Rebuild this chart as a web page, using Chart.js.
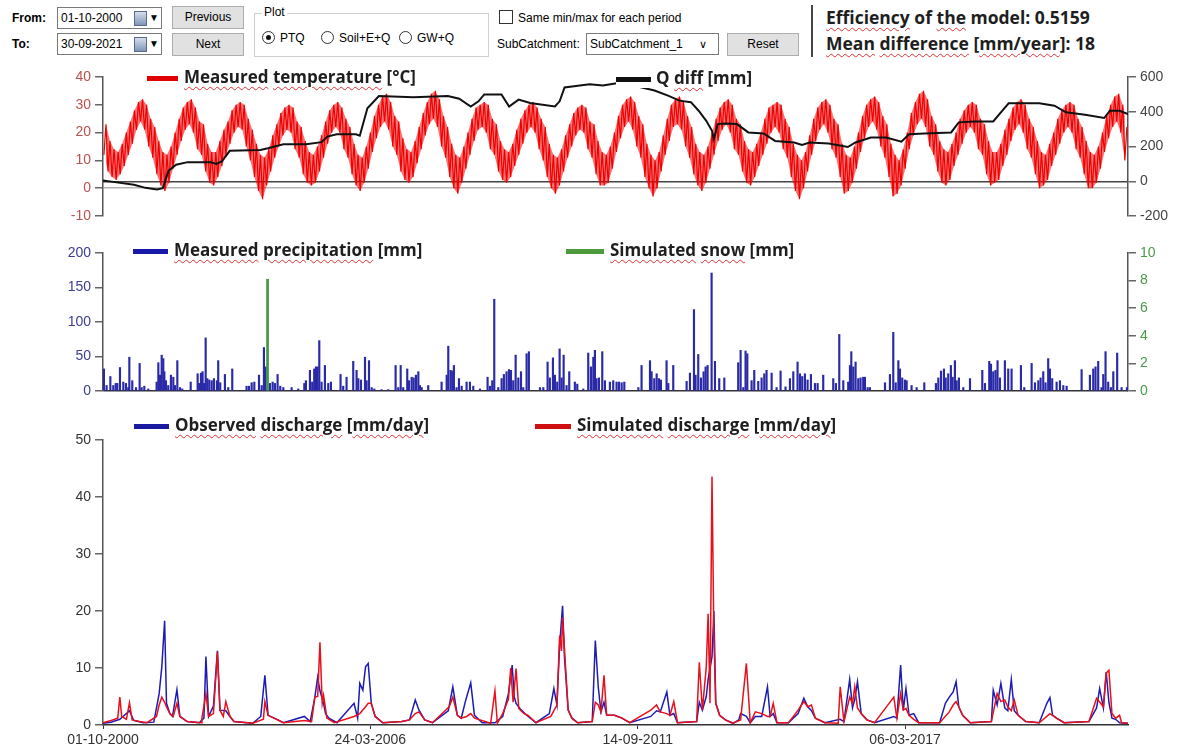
<!DOCTYPE html>
<html lang="en">
  <head>
    <meta charset="UTF-8" />
    <title>PTQ</title>
    <script src="https://cdn.jsdelivr.net/npm/chart.js"></script>
    <style>
      body {
        margin: 0;
        width: 1177px;
        height: 755px;
        position: relative;
        overflow: hidden;
        background: #fff;
        font-family: "Liberation Sans", Arial, sans-serif;
        font-size: 12px;
        color: #000;
      }
      .abs { position: absolute; }
      .b { font-weight: bold; }
      .date {
        width: 100px; height: 20px; line-height: 20px; padding-left: 3px;
        border: 1px solid #7a7a7a; background: #fff;
      }
      .cal {
        position: absolute; left: 76px; top: 3px; width: 11px; height: 13px;
        background: linear-gradient(#d6deec, #7f95bb); border: 1px solid #5a6a88;
      }
      .dd { position: absolute; left: 91px; top: 0; font-size: 10px; }
      .btn {
        height: 21px; line-height: 21px; text-align: center;
        background: #e1e1e1; border: 1px solid #adadad;
      }
      .radio {
        display: inline-block; width: 11px; height: 11px; border: 1px solid #333;
        border-radius: 50%; vertical-align: -2px; margin-right: 5px; position: relative;
      }
      .radio.on::after {
        content: ""; position: absolute; left: 3px; top: 3px; width: 5px; height: 5px;
        border-radius: 50%; background: #111;
      }
      .chk { width: 12px; height: 12px; border: 1px solid #333; background: #fff; }
      .leg {
        position: absolute; height: 20px; line-height: 20px; background: #fff;
        font-family: "Open Sans", sans-serif; font-weight: bold; font-size: 17px;
        color: #1e1e1e; white-space: nowrap; padding-right: 2px;
      }
      .leg i { display: inline-block; height: 5px; vertical-align: middle; margin-right: 6px; }
      .sp {
        text-decoration: underline wavy #e03030;
        text-decoration-thickness: 1px;
        text-underline-offset: 3px;
      }
      .stat {
        font-family: "Open Sans", sans-serif; font-weight: bold; font-size: 17.5px;
        color: #1e1e1e; white-space: nowrap; line-height: 20px;
      }
      canvas { position: absolute; left: 0; }
    </style>
  </head>
  <body>
    <!-- controls -->
    <div class="abs b" style="left: 12px; top: 11px">From:</div>
    <div class="abs date" style="left: 57px; top: 7px">01-10-2000<span class="cal"></span><span class="dd">&#9660;</span></div>
    <div class="abs btn" style="left: 172px; top: 6px; width: 70px">Previous</div>
    <div class="abs b" style="left: 12px; top: 37px">To:</div>
    <div class="abs date" style="left: 57px; top: 33px">30-09-2021<span class="cal"></span><span class="dd">&#9660;</span></div>
    <div class="abs btn" style="left: 172px; top: 33px; width: 70px">Next</div>

    <div class="abs" style="left: 254px; top: 13px; width: 233px; height: 42px; border: 1px solid #d0d0d0"></div>
    <div class="abs" style="left: 262px; top: 5px; background: #fff; padding: 0 2px">Plot</div>
    <div class="abs" style="left: 262px; top: 31px"><span class="radio on"></span>PTQ</div>
    <div class="abs" style="left: 321px; top: 31px"><span class="radio"></span>Soil+E+Q</div>
    <div class="abs" style="left: 399px; top: 31px"><span class="radio"></span>GW+Q</div>

    <div class="abs chk" style="left: 499px; top: 10px"></div>
    <div class="abs" style="left: 518px; top: 11px">Same min/max for each period</div>
    <div class="abs" style="left: 497px; top: 37px">SubCatchment:</div>
    <div class="abs date" style="left: 586px; top: 33px; width: 128px">SubCatchment_1<span style="position: absolute; left: 112px; top: 0; font-size: 11px">&#8744;</span></div>
    <div class="abs btn" style="left: 727px; top: 33px; width: 70px">Reset</div>

    <div class="abs" style="left: 811px; top: 5px; width: 2px; height: 52px; background: #444"></div>
    <div class="abs stat" style="left: 826px; top: 7px"><span class="sp">Efficiency</span> of <span class="sp">the</span> model: 0.5159</div>
    <div class="abs stat" style="left: 826px; top: 33px"><span class="sp">Mean</span> <span class="sp">difference</span> [<span class="sp">mm/year</span>]: 18</div>

    <canvas id="tempChart" width="1177" height="172" style="top: 60px"></canvas>
    <canvas id="precChart" width="1177" height="172" style="top: 236px"></canvas>
    <canvas id="flowChart" width="1177" height="332" style="top: 423px"></canvas>

    <!-- legends -->
    <div class="leg" style="left: 147px; top: 67px"><i style="width: 31px; background: #e00000"></i><span class="sp">Measured</span> <span class="sp">temperature</span> [°C]</div>
    <div class="leg" style="left: 616px; top: 68px"><i style="width: 35px; background: #111; margin-right: 5px"></i>Q <span class="sp">diff</span> [mm]</div>
    <div class="leg" style="left: 133px; top: 240px"><i style="width: 35px; background: #1818a8"></i><span class="sp">Measured</span> <span class="sp">precipitation</span> [mm]</div>
    <div class="leg" style="left: 566px; top: 240px"><i style="width: 38px; background: #4c9a3c"></i><span class="sp">Simulated</span> <span class="sp">snow</span> [mm]</div>
    <div class="leg" style="left: 134px; top: 415px"><i style="width: 35px; background: #1a1aa0"></i><span class="sp">Observed</span> <span class="sp">discharge</span> [<span class="sp">mm/day</span>]</div>
    <div class="leg" style="left: 535px; top: 415px"><i style="width: 36px; background: #d01010"></i><span class="sp">Simulated</span> <span class="sp">discharge</span> [<span class="sp">mm/day</span>]</div>

    <script>
      // time axis: days since 01-10-2000, up to 30-09-2021
      const dayMax = 7668;
      const xTickDays = [0, 2000, 4000, 6000];
      const xTickLabels = ["01-10-2000", "24-03-2006", "14-09-2011", "06-03-2017"];

      // temperature, monthly low / high of the daily noise band (Oct..Sep), one row per hydrological year
      const tempLo = [
        [12, 6, 4, 3, 5, 8, 12, 16, 21, 24, 21, 15],
        [11, 5, 1, -1, 2, 7, 12, 17, 21, 23, 20, 14],
        [12, 6, 2, 1, 4, 8, 12, 16, 20, 22, 21, 15],
        [10, 4, -1, -4, 1, 6, 11, 15, 19, 21, 20, 14],
        [11, 5, 2, 1, 2, 6, 11, 16, 20, 22, 20, 14],
        [11, 5, 1, -1, 2, 7, 13, 18, 22, 24, 21, 15],
        [12, 6, 3, 2, 4, 9, 14, 19, 23, 25, 22, 15],
        [11, 4, 0, -2, 2, 7, 12, 17, 21, 22, 20, 14],
        [12, 6, 3, 2, 4, 8, 12, 16, 20, 22, 20, 14],
        [10, 4, 0, -2, 1, 6, 11, 15, 19, 21, 20, 14],
        [11, 5, 1, 1, 2, 7, 13, 18, 22, 24, 21, 15],
        [11, 4, 0, -3, 0, 6, 12, 17, 22, 23, 21, 15],
        [11, 5, 1, -1, 2, 7, 12, 17, 21, 23, 20, 14],
        [12, 6, 2, 1, 4, 8, 12, 16, 20, 22, 20, 14],
        [11, 4, -1, -4, 0, 6, 12, 17, 21, 23, 20, 14],
        [11, 4, -2, -1, 2, 7, 13, 18, 22, 24, 21, 15],
        [11, 4, -3, -2, 1, 7, 14, 19, 23, 25, 22, 15],
        [12, 6, 2, 1, 3, 8, 12, 16, 20, 22, 20, 14],
        [12, 5, 1, 2, 3, 8, 12, 17, 21, 23, 20, 14],
        [11, 5, 0, 1, 3, 8, 12, 16, 20, 22, 20, 14],
        [11, 5, 0, 0, 2, 7, 13, 18, 22, 24, 20, 10],
      ];
      const tempHi = [
        [23, 17, 14, 13, 16, 20, 24, 28, 31, 32, 30, 25],
        [22, 17, 13, 12, 15, 20, 25, 29, 31, 32, 29, 24],
        [23, 16, 13, 13, 17, 21, 24, 28, 30, 31, 30, 25],
        [21, 16, 12, 11, 14, 19, 23, 27, 29, 30, 29, 24],
        [22, 17, 13, 12, 15, 19, 24, 28, 30, 31, 29, 25],
        [22, 16, 12, 11, 15, 20, 26, 30, 33, 34, 31, 26],
        [24, 18, 14, 13, 17, 22, 27, 31, 34, 35, 32, 26],
        [22, 16, 12, 11, 15, 20, 25, 29, 30, 31, 30, 25],
        [23, 17, 14, 13, 16, 21, 25, 28, 30, 31, 29, 25],
        [22, 16, 12, 11, 14, 19, 23, 27, 29, 30, 29, 24],
        [23, 17, 13, 12, 15, 20, 26, 30, 32, 33, 31, 26],
        [23, 16, 12, 10, 13, 19, 25, 30, 32, 33, 31, 26],
        [22, 16, 13, 12, 15, 20, 25, 29, 31, 32, 30, 25],
        [23, 17, 14, 13, 16, 20, 25, 29, 30, 31, 30, 25],
        [22, 16, 12, 10, 13, 19, 25, 29, 31, 32, 30, 25],
        [23, 16, 12, 11, 15, 20, 26, 30, 32, 33, 31, 26],
        [23, 16, 12, 10, 14, 20, 27, 31, 34, 35, 32, 26],
        [23, 17, 14, 13, 16, 20, 25, 28, 30, 31, 30, 25],
        [23, 17, 13, 13, 16, 21, 25, 29, 31, 32, 30, 25],
        [22, 17, 13, 12, 16, 20, 25, 28, 30, 31, 30, 25],
        [22, 17, 13, 12, 15, 20, 26, 30, 33, 34, 30, 22],
      ];

      // Q diff [mm], [day, value]
      const qDiff = [
        [0, 5], [89, -5], [232, -20], [318, -38], [404, -48], [447, -40], [490, 60], [547, 95],
        [633, 110], [805, 110], [848, 100], [890, 115], [948, 175], [1177, 180], [1234, 190],
        [1349, 213], [1520, 213], [1635, 225], [1678, 257], [1749, 270], [1892, 270], [1921, 262],
        [1978, 420], [2064, 490], [2322, 483], [2580, 490], [2665, 475], [2751, 430], [2809, 460],
        [2852, 500], [2981, 500], [3038, 430], [3109, 470], [3195, 450], [3381, 430], [3416, 460],
        [3453, 540], [3553, 550], [3640, 558], [3740, 551], [3854, 565], [3912, 561], [4126, 522],
        [4227, 493], [4312, 464], [4398, 455], [4456, 406], [4513, 348], [4556, 290], [4570, 242],
        [4599, 329], [4656, 333], [4742, 329], [4828, 281], [4942, 275], [5028, 232], [5171, 223],
        [5229, 209], [5286, 223], [5429, 217], [5572, 197], [5629, 223], [5744, 252], [5858, 252],
        [5973, 228], [6030, 271], [6145, 275], [6345, 281], [6402, 339], [6517, 344], [6660, 344],
        [6717, 397], [6775, 449], [7004, 449], [7118, 435], [7204, 397], [7347, 383], [7490, 364],
        [7533, 406], [7605, 406], [7668, 387],
      ];

      // measured precipitation [mm], [day, value]
      const precip = [
        [7, 32], [27, 8], [55, 21], [77, 8], [95, 11], [107, 11], [127, 34], [152, 13], [172, 11], [189, 5], [197, 49], [219, 15], [247, 5], [274, 40], [289, 5], [309, 7], [339, 3],
        [401, 13], [414, 41], [426, 23], [439, 52], [451, 47], [459, 28], [471, 15], [488, 8], [508, 23], [526, 20], [538, 8], [556, 44], [576, 5], [593, 3], [656, 13],
        [708, 25], [720, 11], [733, 26], [745, 28], [755, 11], [768, 77], [780, 18], [795, 16], [813, 15], [830, 18], [852, 15], [862, 44], [877, 12], [912, 24], [937, 5], [967, 32],
        [1074, 7], [1092, 7], [1112, 12], [1132, 13], [1167, 23], [1187, 8], [1204, 63], [1216, 35], [1249, 11], [1269, 13], [1286, 11], [1306, 24], [1326, 7], [1349, 5], [1411, 5], [1461, 3],
        [1506, 11], [1518, 15], [1548, 30], [1565, 13], [1580, 32], [1593, 35], [1605, 35], [1618, 73], [1635, 13], [1660, 37], [1685, 11], [1705, 13], [1777, 24], [1797, 7], [1822, 20], [1872, 43], [1897, 30],
        [1910, 18], [1930, 16], [1960, 49], [1972, 15], [1990, 44], [2010, 5], [2030, 3], [2084, 2], [2134, 2],
        [2189, 37], [2209, 5], [2227, 37], [2246, 5], [2276, 32], [2289, 15], [2309, 20], [2324, 19], [2341, 23], [2359, 28], [2371, 8], [2384, 5], [2433, 8],
        [2533, 13], [2571, 23], [2583, 65], [2600, 30], [2613, 29], [2625, 37], [2645, 5], [2663, 18], [2683, 7], [2720, 13], [2745, 13], [2770, 7], [2820, 3],
        [2877, 20], [2895, 7], [2912, 15], [2927, 133], [2957, 5], [2982, 18], [2999, 24], [3019, 28], [3037, 31], [3052, 30], [3069, 15], [3087, 52], [3107, 19], [3127, 28], [3144, 5], [3169, 54], [3186, 57], [3269, 5], [3294, 5],
        [3326, 42], [3343, 19], [3366, 48], [3381, 23], [3398, 13], [3416, 61], [3431, 19], [3446, 52], [3468, 8], [3488, 28], [3530, 13], [3548, 10], [3593, 3],
        [3630, 55], [3650, 35], [3668, 49], [3680, 59], [3692, 18], [3710, 19], [3735, 57], [3755, 15], [3792, 13], [3817, 15], [3842, 13], [3860, 13], [3880, 12], [3900, 13],
        [4005, 5], [4029, 37], [4092, 44], [4104, 28], [4124, 18], [4142, 25], [4159, 18], [4174, 16], [4216, 44], [4229, 11], [4266, 37],
        [4366, 14], [4391, 26], [4421, 118], [4433, 23], [4453, 53], [4473, 19], [4493, 28], [4508, 35], [4523, 37], [4553, 171], [4578, 43], [4610, 18], [4648, 19],
        [4752, 41], [4770, 59], [4790, 5], [4807, 58], [4820, 54], [4852, 15], [4872, 30], [4902, 14], [4927, 19], [4947, 25], [4964, 30], [5002, 26], [5039, 5], [5069, 29], [5106, 6],
        [5139, 18], [5164, 28], [5196, 42], [5214, 25], [5231, 21], [5251, 25], [5271, 16], [5296, 24], [5326, 11], [5346, 11], [5388, 23],
        [5463, 18], [5483, 11], [5508, 82], [5538, 15], [5575, 13], [5588, 37], [5598, 57], [5613, 35], [5630, 42], [5650, 18], [5667, 19], [5687, 20], [5700, 20], [5720, 5], [5737, 5],
        [5850, 12], [5887, 24], [5912, 85], [5930, 12], [5950, 44], [5962, 32], [5979, 19], [5999, 16], [6012, 15], [6049, 8], [6087, 5], [6144, 12],
        [6231, 11], [6249, 19], [6269, 29], [6291, 32], [6304, 19], [6323, 25], [6343, 37], [6356, 20], [6373, 44], [6386, 15], [6403, 19], [6436, 5], [6486, 18],
        [6578, 30], [6598, 11], [6630, 43], [6643, 39], [6660, 28], [6677, 30], [6692, 44], [6710, 19], [6747, 44], [6772, 32], [6797, 32], [6867, 37], [6892, 5],
        [6947, 40], [6972, 12], [6997, 15], [7014, 19], [7034, 28], [7051, 12], [7071, 47], [7084, 32], [7101, 18], [7134, 13], [7159, 15], [7184, 8], [7209, 7],
        [7321, 31], [7383, 23], [7408, 32], [7425, 35], [7445, 43], [7470, 5], [7483, 24], [7500, 57], [7520, 13], [7540, 5], [7558, 28], [7587, 55], [7620, 5], [7660, 5],
      ];

      // simulated snow [mm], [day, value]
      const snow = [[1231, 8.1]];

      // discharge [mm/day], [day, value]
      const obsQ = [
        [0, 0.3], [60, 0.5], [126, 1.0], [198, 2.5], [230, 0.8], [300, 0.4], [380, 0.5], [404, 3.5], [420, 5.5], [440, 10.2], [461, 18.3], [475, 3.8], [500, 2.0], [520, 1.5], [553, 6.2], [575, 1.5], [630, 0.6],
        [720, 0.4], [755, 1.2], [770, 12.0], [790, 1.5], [826, 3.3], [856, 13.0], [875, 2.6], [919, 2.5], [950, 1.5], [980, 0.6], [1120, 0.3], [1180, 1.5], [1211, 8.7], [1235, 1.7], [1280, 1.2], [1350, 0.4],
        [1506, 1.5], [1550, 0.6], [1585, 4.9], [1606, 8.4], [1623, 6.0], [1650, 3.8], [1665, 2.0], [1690, 1.2], [1750, 0.4], [1878, 3.8], [1905, 1.2], [1921, 7.3], [1944, 6.1], [1964, 10.2], [1984, 10.8], [2007, 3.8], [2036, 1.5], [2093, 0.4],
        [2236, 0.6], [2293, 0.9], [2336, 4.4], [2364, 2.6], [2407, 0.9], [2465, 0.4], [2583, 2.5], [2617, 6.7], [2651, 1.7], [2680, 1.2], [2714, 4.4], [2751, 7.4], [2779, 1.7], [2837, 0.4],
        [2932, 0.4], [2990, 1.5], [3033, 5.5], [3061, 10.5], [3076, 5.0], [3090, 3.8], [3119, 2.9], [3156, 2.0], [3239, 0.4], [3339, 2.0], [3373, 6.4], [3396, 3.5], [3416, 14.0], [3438, 20.9], [3452, 12.0], [3480, 2.6], [3508, 1.2], [3551, 0.4],
        [3660, 0.6], [3683, 14.8], [3705, 6.7], [3725, 2.3], [3748, 4.0], [3768, 1.7], [3826, 1.7], [3883, 1.2], [3940, 0.4], [4098, 1.5], [4141, 2.5], [4169, 2.3], [4218, 5.8], [4241, 1.7], [4270, 2.0], [4298, 0.4],
        [4441, 0.6], [4461, 4.0], [4484, 2.6], [4513, 5.0], [4527, 8.0], [4556, 12.0], [4570, 20.0], [4584, 3.8], [4613, 1.7], [4656, 0.9], [4713, 0.3], [4756, 0.9], [4770, 2.0], [4813, 1.5], [4842, 0.4],
        [4880, 1.5], [4928, 1.5], [4971, 6.7], [4991, 1.5], [5014, 2.0], [5042, 0.4], [5128, 0.4], [5200, 2.0], [5243, 4.7], [5272, 3.2], [5300, 2.5], [5329, 1.2], [5400, 0.4],
        [5515, 1.0], [5543, 0.6], [5586, 8.0], [5607, 3.0], [5624, 4.5], [5644, 7.6], [5672, 2.0], [5715, 0.9], [5772, 0.4], [5916, 1.5], [5939, 1.2], [5967, 10.5], [5987, 2.6], [6007, 6.4], [6030, 1.7], [6065, 2.0], [6102, 0.4],
        [6259, 0.4], [6302, 3.8], [6331, 4.9], [6360, 5.8], [6382, 7.6], [6402, 3.2], [6431, 1.7], [6488, 0.4], [6646, 0.6], [6660, 6.1], [6689, 3.5], [6717, 7.3], [6746, 3.0], [6769, 2.5], [6795, 8.0], [6817, 2.5], [6846, 1.7], [6903, 0.6],
        [7004, 0.4], [7061, 3.8], [7084, 4.8], [7104, 1.7], [7133, 1.2], [7190, 0.4], [7376, 0.6], [7433, 3.0], [7456, 6.4], [7484, 3.0], [7505, 9.3], [7525, 4.0], [7548, 1.2], [7576, 1.0], [7605, 0.4], [7668, 0.3],
      ];
      const simQ = [
        [0, 0.4], [60, 0.8], [110, 1.2], [126, 4.9], [140, 1.5], [175, 1.0], [198, 3.9], [218, 0.9], [275, 0.6], [330, 0.4], [400, 1.5], [420, 3.5], [440, 4.9], [461, 4.0], [475, 3.2], [500, 2.0], [525, 1.5], [553, 3.8], [575, 1.5], [630, 0.6],
        [735, 0.4], [740, 1.2], [770, 5.5], [790, 1.5], [826, 2.0], [856, 12.8], [875, 2.6], [900, 1.5], [919, 4.1], [950, 1.5], [980, 0.6], [1120, 0.3], [1200, 1.0], [1211, 4.1], [1235, 1.7], [1280, 1.2], [1350, 0.4],
        [1506, 0.8], [1560, 0.6], [1585, 4.9], [1606, 5.0], [1623, 14.5], [1640, 3.8], [1650, 5.2], [1675, 1.2], [1730, 0.4], [1878, 1.5], [1921, 2.0], [1964, 3.2], [1984, 3.8], [2007, 3.8], [2036, 1.5], [2093, 0.4],
        [2236, 0.6], [2293, 0.9], [2336, 2.0], [2364, 2.3], [2407, 0.9], [2465, 0.4], [2590, 3.2], [2617, 4.9], [2651, 1.7], [2680, 1.2], [2720, 1.5], [2751, 2.0], [2779, 1.2], [2900, 0.3], [2932, 6.0], [2950, 0.3],
        [2990, 2.0], [3033, 4.5], [3050, 10.0], [3068, 4.0], [3090, 9.9], [3110, 2.9], [3150, 2.0], [3180, 1.7], [3239, 0.4], [3350, 1.5], [3396, 3.5], [3416, 15.7], [3430, 13.0], [3438, 18.9], [3452, 13.4], [3480, 2.6], [3508, 1.2], [3551, 0.4],
        [3660, 0.6], [3683, 4.0], [3705, 3.5], [3725, 2.3], [3748, 8.7], [3768, 1.7], [3826, 1.7], [3883, 1.2], [3940, 0.4], [4098, 2.6], [4141, 3.5], [4169, 2.3], [4218, 2.0], [4241, 1.7], [4270, 4.1], [4298, 0.4],
        [4441, 0.6], [4461, 11.0], [4484, 2.6], [4513, 10.2], [4527, 19.5], [4541, 3.8], [4556, 43.6], [4570, 15.4], [4584, 3.8], [4613, 1.7], [4656, 0.9], [4713, 0.3], [4770, 0.9], [4813, 10.8], [4842, 0.4],
        [4880, 2.3], [4928, 2.0], [4971, 1.5], [4991, 1.5], [5014, 3.8], [5042, 0.4], [5128, 0.4], [5200, 2.6], [5243, 4.1], [5272, 3.2], [5300, 3.5], [5329, 1.2], [5400, 0.4],
        [5500, 0.3], [5515, 6.7], [5543, 0.6], [5586, 4.9], [5607, 3.8], [5624, 6.7], [5644, 3.0], [5672, 2.0], [5715, 0.9], [5772, 0.4], [5916, 4.9], [5939, 1.2], [5967, 5.5], [5987, 2.6], [6007, 2.9], [6030, 1.7], [6065, 1.0], [6102, 0.4],
        [6259, 0.4], [6331, 2.3], [6360, 3.5], [6382, 4.1], [6402, 3.2], [6431, 1.7], [6488, 0.4], [6646, 0.6], [6689, 5.5], [6717, 4.1], [6746, 4.4], [6769, 3.2], [6795, 2.5], [6817, 4.4], [6846, 1.7], [6903, 0.6],
        [7004, 0.4], [7084, 2.0], [7104, 1.7], [7133, 1.2], [7190, 0.4], [7376, 0.6], [7433, 4.7], [7484, 3.2], [7505, 9.1], [7525, 9.6], [7548, 2.0], [7576, 1.2], [7605, 1.7], [7620, 0.4], [7668, 0.3],
      ];

      Chart.defaults.animation = false;
      Chart.defaults.responsive = false;
      Chart.defaults.devicePixelRatio = 1;
      Chart.defaults.plugins.legend.display = false;
      Chart.defaults.plugins.tooltip.enabled = false;

      const tickFont = { family: "'Liberation Sans Narrow', 'Liberation Sans', Arial", size: 14 };
      const toPts = (rows) => rows.map(([d, v]) => ({ x: d, y: v }));

      // zigzag between the monthly low and high of the temperature band,
      // plus the band itself (low and high edges) for the fill
      const monthDays = dayMax / 252;
      const tempPts = [];
      const tempLoPts = [];
      const tempHiPts = [];
      tempHi.forEach((row, yr) =>
        row.forEach((hi, m) => {
          const start = (yr * 12 + m) * monthDays;
          const lo = tempLo[yr][m];
          tempPts.push({ x: start + 7, y: lo }, { x: start + 22, y: hi });
          tempLoPts.push({ x: start + 7, y: lo });
          tempHiPts.push({ x: start + 22, y: hi });
        })
      );

      function xAxis(show) {
        return {
          type: "linear",
          min: 0,
          max: dayMax,
          offset: false,
          display: show,
          afterBuildTicks: (s) => {
            s.ticks = xTickDays.map((v) => ({ value: v }));
          },
          afterFit: (s) => {
            if (show) s.height = 30;
          },
          ticks: {
            callback: (v) => xTickLabels[xTickDays.indexOf(v)],
            color: "#333",
            font: tickFont,
            padding: 3,
            maxRotation: 0,
            autoSkip: false,
          },
          grid: { offset: false, drawOnChartArea: false, tickLength: 4, tickColor: "#333" },
          border: { color: "#333", width: 1.5 },
        };
      }

      function yAxis(pos, min, max, step, color, zeroColor) {
        return {
          position: pos,
          min: min,
          max: max,
          afterFit: (s) => {
            s.width = pos === "left" ? 103 : 49;
          },
          ticks: { stepSize: step, color: color, font: tickFont, padding: 4 },
          grid: {
            color: (c) => (zeroColor && c.tick && c.tick.value === 0 ? zeroColor : "rgba(0,0,0,0)"),
            lineWidth: 1.5,
            tickColor: "#666",
            tickLength: 8,
          },
          border: { color: "#555", width: 1.5 },
        };
      }

      // temperature + Q diff
      new Chart(document.getElementById("tempChart"), {
        type: "line",
        data: {
          datasets: [
            {
              data: toPts(qDiff),
              yAxisID: "y1",
              borderColor: "#111",
              borderWidth: 2,
              pointRadius: 0,
              order: 1,
            },
            {
              data: tempPts,
              yAxisID: "y",
              borderColor: "#f00000",
              borderWidth: 1.2,
              pointRadius: 0,
              order: 2,
            },
            {
              data: tempLoPts,
              yAxisID: "y",
              borderWidth: 0,
              pointRadius: 0,
              order: 3,
            },
            {
              data: tempHiPts,
              yAxisID: "y",
              borderWidth: 0,
              pointRadius: 0,
              fill: "-1",
              backgroundColor: "rgba(240,0,0,0.55)",
              order: 3,
            },
          ],
        },
        options: {
          layout: { padding: { top: 17, bottom: 16 } },
          scales: {
            x: xAxis(false),
            y: yAxis("left", -10, 40, 10, "#c0504d", "#b4b4b4"),
            y1: yAxis("right", -200, 600, 200, "#444", "#444"),
          },
        },
      });

      // precipitation + snow
      new Chart(document.getElementById("precChart"), {
        type: "bar",
        data: {
          datasets: [
            {
              data: toPts(snow),
              yAxisID: "y1",
              backgroundColor: "#3f9a3f",
              barThickness: 2,
              grouped: false,
              order: 1,
            },
            {
              data: toPts(precip),
              yAxisID: "y",
              backgroundColor: "#2a2aa8",
              barThickness: 1.5,
              grouped: false,
              order: 2,
            },
          ],
        },
        options: {
          layout: { padding: { top: 17, bottom: 17 } },
          scales: {
            x: xAxis(false),
            y: yAxis("left", 0, 200, 50, "#3c3c96", "#333"),
            y1: yAxis("right", 0, 10, 2, "#4a9a4a", null),
          },
        },
      });

      // discharge
      new Chart(document.getElementById("flowChart"), {
        type: "line",
        data: {
          datasets: [
            {
              data: toPts(simQ),
              borderColor: "#e8101a",
              borderWidth: 1.5,
              pointRadius: 0,
              order: 1,
            },
            {
              data: toPts(obsQ),
              borderColor: "#1c1cb4",
              borderWidth: 1.5,
              pointRadius: 0,
              order: 2,
            },
          ],
        },
        options: {
          layout: { padding: { top: 17, right: 49 } },
          scales: {
            x: xAxis(true),
            y: yAxis("left", 0, 50, 10, "#333", null),
          },
        },
      });
    </script>
  </body>
</html>
